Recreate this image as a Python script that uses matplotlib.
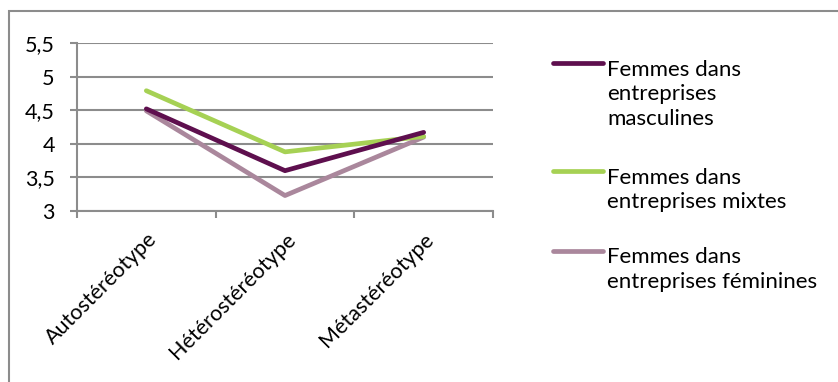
import matplotlib
matplotlib.use("Agg")
import matplotlib.pyplot as plt
from matplotlib.lines import Line2D
from matplotlib.patches import Rectangle

categories = ["Autostéréotype", "Hétérostéréotype", "Métastéréotype"]
series_names = [["Femmes dans", "entreprises", "masculines"],
                ["Femmes dans", "entreprises mixtes"],
                ["Femmes dans", "entreprises féminines"]]
masculines = [4.52, 3.60, 4.17]
mixtes = [4.79, 3.88, 4.11]
feminines = [4.49, 3.23, 4.10]
yticks = [3, 3.5, 4, 4.5, 5, 5.5]
ytick_labels = ["3", "3,5", "4", "4,5", "5", "5,5"]

colors = ["#5E0F4E", "#A6D154", "#AA879C"]
series = [masculines, mixtes, feminines]

plt.rcParams['font.family'] = ['Lato', 'DejaVu Sans']
W, H = 838, 382
fig = plt.figure(figsize=(W / 100, H / 100), dpi=100)
fig.patch.set_facecolor("white")

# outer chart frame
fig.patches.append(Rectangle((9 / W, -0.1), 1.0, 1 - 11 / H + 0.1,
                             transform=fig.transFigure, fill=False,
                             edgecolor="#8C8C8C", linewidth=1.5))

ax = fig.add_axes([77 / W, 1 - 211 / H, (493 - 77) / W, (211 - 43) / H])
x = list(range(len(categories)))
for vals, c in list(zip(series, colors))[::-1]:
    ax.plot(x, vals, color=c, linewidth=3.4, solid_capstyle="round", zorder=3)

ax.set_xlim(-0.5, len(categories) - 0.5)
ax.set_ylim(3, 5.5)
ax.set_yticks(yticks)
ax.set_yticklabels(ytick_labels, fontsize=15.5)
ax.yaxis.grid(True, color="#8C8C8C", linewidth=1.5)
ax.set_axisbelow(True)

ax.set_xticks(x)
ax.set_xticklabels(categories, rotation=45, ha="right", rotation_mode="anchor",
                   fontsize=15.5)
ax.tick_params(axis="x", which="major", length=0, pad=13)
ax.set_xticks([i - 0.5 for i in range(len(categories) + 1)], minor=True)
ax.tick_params(axis="x", which="minor", length=5, width=1.5, color="#8C8C8C")
ax.tick_params(axis="y", length=5, width=1.5, color="#8C8C8C", pad=11)

for s in ["top", "right"]:
    ax.spines[s].set_visible(False)
for s in ["left", "bottom"]:
    ax.spines[s].set_color("#8C8C8C")
    ax.spines[s].set_linewidth(1.5)

# legend drawn Excel-style: line aligned with first text line
leg_y = [63.3, 171, 250.7]
pitch = 24.5
for lines, c, y in zip(series_names, colors, leg_y):
    fig.add_artist(Line2D([553 / W, 603 / W], [1 - y / H, 1 - y / H],
                          transform=fig.transFigure, color=c, linewidth=3.4,
                          solid_capstyle="round"))
    for k, line in enumerate(lines):
        base = y + 12.7 + k * pitch
        fig.text(607 / W, 1 - base / H, line, fontsize=16, va="baseline",
                 ha="left")

fig.savefig("out.png", dpi=100, facecolor="white")
